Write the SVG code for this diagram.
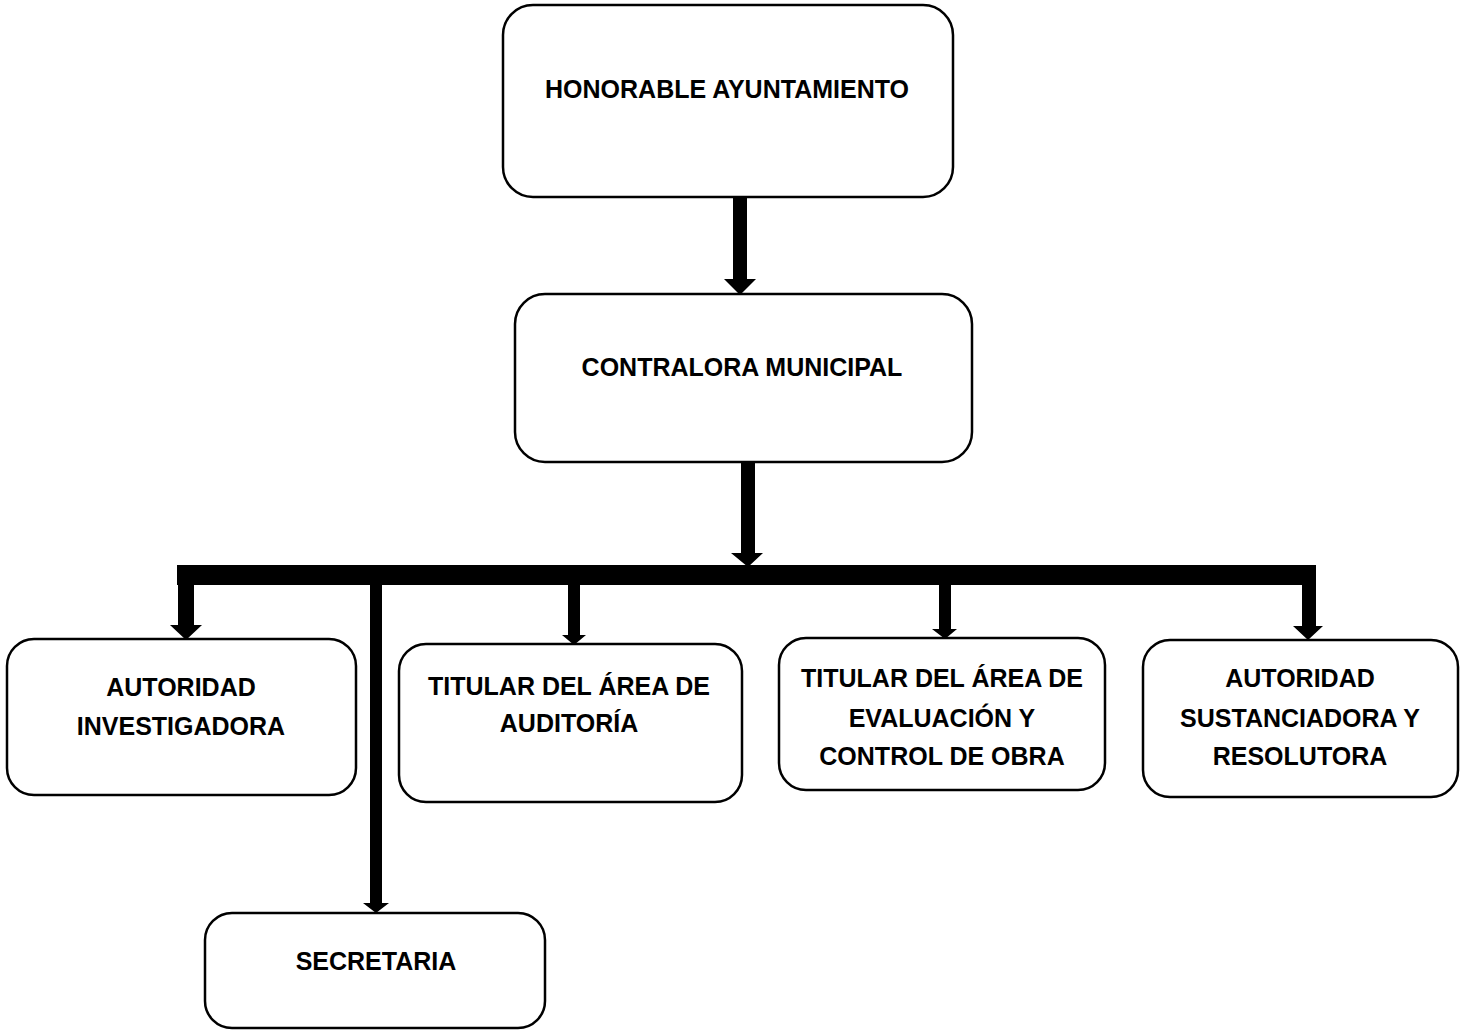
<svg xmlns="http://www.w3.org/2000/svg" width="1463" height="1030" viewBox="0 0 1463 1030">
<style>
.box{fill:#fff;stroke:#000;stroke-width:2.5}
.t{font-family:"Liberation Sans",Arial,sans-serif;font-weight:bold;font-size:25px;fill:#000;text-anchor:middle}
.c{fill:#000;stroke:none}
</style>
<rect width="1463" height="1030" fill="#fff"/>
<g id="connectors">
<path class="c" d="M733,196 H747 V279 H756 L740,295 L724,279 H733 Z"/>
<path class="c" d="M741,462 H755 V553 H763 L748,567 L731,553 H741 Z"/>
<rect class="c" x="177" y="565" width="1139" height="20"/>
<path class="c" d="M178,585 H194 V625 H202 L186,640 L170,625 H178 Z"/>
<path class="c" d="M370,585 H382 V903 H389 L376,913 L363,903 H370 Z"/>
<path class="c" d="M568,585 H580 V635 H586 L574,645 L562,635 H568 Z"/>
<path class="c" d="M939,585 H951 V629 H957 L945,639 L932,629 H939 Z"/>
<path class="c" d="M1302,585 H1316 V626 H1323 L1308,640 L1293,626 H1302 Z"/>
</g>
<g id="honorable">
<rect class="box" x="503" y="5" width="450" height="192" rx="30"/>
<text class="t" x="727" y="98">HONORABLE AYUNTAMIENTO</text>
</g>
<g id="contralora">
<rect class="box" x="515" y="294" width="457" height="168" rx="30"/>
<text class="t" x="742" y="376">CONTRALORA MUNICIPAL</text>
</g>
<g id="investigadora">
<rect class="box" x="7" y="639" width="349" height="156" rx="27"/>
<text class="t" x="181" y="696">AUTORIDAD</text>
<text class="t" x="181" y="735">INVESTIGADORA</text>
</g>
<g id="auditoria">
<rect class="box" x="399" y="644" width="343" height="158" rx="27"/>
<text class="t" x="569" y="695">TITULAR DEL ÁREA DE</text>
<text class="t" x="569" y="732">AUDITORÍA</text>
</g>
<g id="evaluacion">
<rect class="box" x="779" y="638" width="326" height="152" rx="27"/>
<text class="t" x="942" y="687">TITULAR DEL ÁREA DE</text>
<text class="t" x="942" y="727">EVALUACIÓN Y</text>
<text class="t" x="942" y="765">CONTROL DE OBRA</text>
</g>
<g id="sustanciadora">
<rect class="box" x="1143" y="640" width="315" height="157" rx="27"/>
<text class="t" x="1300" y="687">AUTORIDAD</text>
<text class="t" x="1300" y="727">SUSTANCIADORA Y</text>
<text class="t" x="1300" y="765">RESOLUTORA</text>
</g>
<g id="secretaria">
<rect class="box" x="205" y="913" width="340" height="115" rx="27"/>
<text class="t" x="376" y="970">SECRETARIA</text>
</g>
</svg>
